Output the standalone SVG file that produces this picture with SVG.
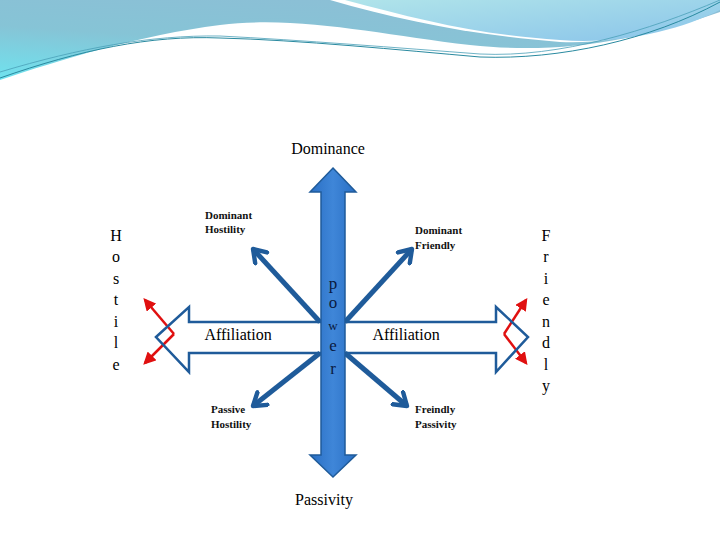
<svg xmlns="http://www.w3.org/2000/svg" width="720" height="540" viewBox="0 0 720 540">
<defs>
<linearGradient id="bg" x1="0" y1="1" x2="0.6" y2="0"><stop offset="0" stop-color="#6fe3ef"/><stop offset="0.5" stop-color="#86c4d6"/><stop offset="1" stop-color="#8cbfd6"/></linearGradient>
<linearGradient id="bg2" x1="0" y1="0" x2="1" y2="1"><stop offset="0" stop-color="#b0e4ea"/><stop offset="1" stop-color="#8ac4ea"/></linearGradient>
<linearGradient id="vg" x1="0" y1="0" x2="1" y2="0"><stop offset="0" stop-color="#2a6fc4"/><stop offset="0.5" stop-color="#3f86d8"/><stop offset="1" stop-color="#2a6fc4"/></linearGradient>
<marker id="bh" viewBox="0 0 10 10" refX="7" refY="5" markerWidth="4" markerHeight="4" orient="auto"><path d="M1,1 L7,5 L1,9" fill="none" stroke="#1f5b9a" stroke-width="2.2" stroke-linecap="round" stroke-linejoin="round"/></marker>
<marker id="rh" viewBox="0 0 10 10" refX="8" refY="5" markerWidth="5" markerHeight="5" orient="auto"><path d="M0,0 L10,5 L0,10 Z" fill="#e01010"/></marker>
<style>
.t{font-family:"Liberation Serif",serif;fill:#000}
.s{font-family:"Liberation Serif",serif;font-size:11px;font-weight:bold;fill:#111}
.p{font-family:"Liberation Serif",serif;font-size:17px;fill:#0a1a40;text-anchor:middle}
.v{font-family:"Liberation Serif",serif;font-size:16px;fill:#000;text-anchor:middle}
.d{stroke:#1f5b9a;stroke-width:5;fill:none;marker-end:url(#bh)}
.r{stroke:#e01010;stroke-width:2.5;fill:none;marker-end:url(#rh)}
</style>
</defs>
<g id="background">
<path d="M0,0 H720 V12 C640,40 560,55 470,45 C380,35 300,15 220,25 C140,35 60,60 0,80 Z" fill="url(#bg)"/>
<path d="M330,0 H720 V5 C670,25 620,45 560,42 C470,35 400,20 330,0 Z" fill="#ffffff"/>
<path d="M345,0 H720 V10 C680,30 620,45 560,40 C480,35 420,20 345,0 Z" fill="url(#bg2)"/>
<path d="M0,78 C80,50 150,35 220,38 C300,40 400,50 480,57 C560,60 650,40 720,2" fill="none" stroke="#2a8aa0" stroke-width="1"/>
<path d="M0,72 C80,48 150,35 220,36 C300,40 400,48 480,54 C560,58 650,30 720,0" fill="none" stroke="#4aa0b8" stroke-width="0.8"/>
</g>
<g id="connectors">
<path d="M345,322 L412,249" class="d"/>
<path d="M320,322 L253,249" class="d"/>
<path d="M320,353 L253,406" class="d"/>
<path d="M345,353 L407,406" class="d"/>
<path d="M174,334 L145,300" class="r"/>
<path d="M174,334 L145,363" class="r"/>
<path d="M504,334 L526,300" class="r"/>
<path d="M504,334 L526,363" class="r"/>
</g>
<g id="affiliation-arrow">
<path d="M156,337 L189,307 V322 H496 V307 L528,337 L496,372 V353 H189 V372 Z" fill="#fff" fill-opacity="0" stroke="#1f5b9a" stroke-width="2.5" stroke-linejoin="miter"/>
</g>
<g id="power-arrow">
<path d="M333,168 L356,192 H345 V455 H356 L333,477 L310,455 H321 V192 H310 Z" fill="url(#vg)" stroke="#1f5b9a" stroke-width="1.5"/>
<text class="p" x="333" y="289">p</text>
<text class="p" x="333" y="308">o</text>
<text class="p" x="333" y="330" style="font-size:13px">w</text>
<text class="p" x="333" y="351">e</text>
<text class="p" x="333" y="374">r</text>
</g>
<g id="labels">
<text class="t" x="328" y="154" font-size="16" text-anchor="middle">Dominance</text>
<text class="t" x="324" y="505" font-size="16" text-anchor="middle">Passivity</text>
<text class="t" x="238" y="340" font-size="16" text-anchor="middle">Affiliation</text>
<text class="t" x="406" y="340" font-size="16" text-anchor="middle">Affiliation</text>
<text class="s" x="205" y="219">Dominant</text>
<text class="s" x="205" y="233">Hostility</text>
<text class="s" x="415" y="234">Dominant</text>
<text class="s" x="415" y="249">Friendly</text>
<text class="s" x="211" y="413">Passive</text>
<text class="s" x="211" y="428">Hostility</text>
<text class="s" x="415" y="413">Freindly</text>
<text class="s" x="415" y="428">Passivity</text>
</g>
<g id="hostile">
<text class="v" x="116" y="241">H</text><text class="v" x="116" y="262">o</text><text class="v" x="116" y="284">s</text><text class="v" x="116" y="305">t</text><text class="v" x="116" y="327">i</text><text class="v" x="116" y="348">l</text><text class="v" x="116" y="370">e</text>
</g>
<g id="friendly">
<text class="v" x="546" y="241">F</text><text class="v" x="546" y="262">r</text><text class="v" x="546" y="284">i</text><text class="v" x="546" y="305">e</text><text class="v" x="546" y="327">n</text><text class="v" x="546" y="348">d</text><text class="v" x="546" y="370">l</text><text class="v" x="546" y="391">y</text>
</g>
</svg>
